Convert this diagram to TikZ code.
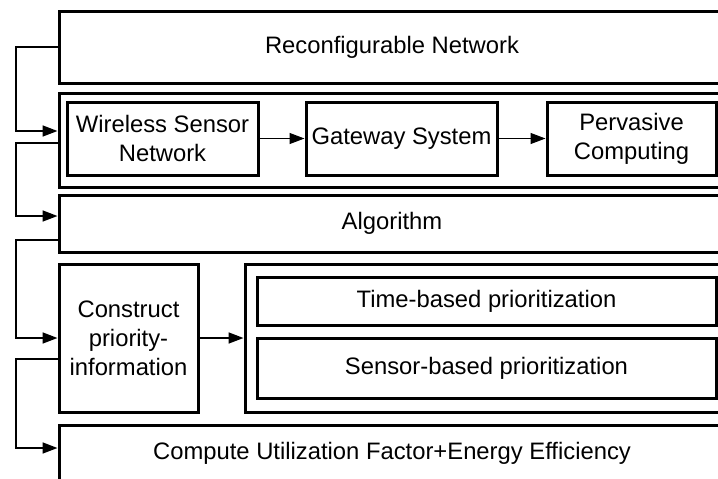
\documentclass[tikz,border=0pt]{standalone}
\usepackage{fontspec}
\setmainfont{Liberation Sans}
\usetikzlibrary{arrows.meta,calc}
\begin{document}
\begin{tikzpicture}[x=1pt,y=-1pt,
  box/.style={draw,line width=3pt,rectangle,inner sep=0pt,align=center,
              font=\fontsize{23.8}{29}\selectfont},
  conn/.style={line width=1.7pt,-{Triangle[length=15pt,width=11pt]}},
  thinconn/.style={line width=1pt,-{Triangle[length=15pt,width=11pt]}}]
\useasboundingbox (0,0) rectangle (718,479);
\clip (0,0) rectangle (718,479);
\coordinate (lx) at (16,0);
% boxes
\node[box,minimum width=666pt,minimum height=72pt] (reco) at (392,47) {Reconfigurable Network};
\node[box,minimum width=666pt,minimum height=94pt] (net) at (392,140) {};
\node[box,minimum width=191pt,minimum height=73pt] (wsn) at (162.5,138.5) {Wireless Sensor\\Network};
\node[box,minimum width=191pt,minimum height=73pt] (gw) at (401.5,138.5) {Gateway System};
\node[box,minimum width=169pt,minimum height=73pt] (pc) at (631.5,138.5) {Pervasive\\Computing};
\node[box,minimum width=666pt,minimum height=57pt] (algo) at (392,223.5) {Algorithm};
\node[box,minimum width=139pt,minimum height=148pt] (cons) at (128.5,338) {Construct\\priority-\\information};
\node[box,minimum width=483pt,minimum height=148pt] (prio) at (486.5,338) {};
\node[box,minimum width=459pt,minimum height=48pt] (time) at (486.5,301) {Time-based prioritization};
\node[box,minimum width=459pt,minimum height=60pt] (sens) at (486.5,368) {Sensor-based prioritization};
\node[box,minimum width=666pt,minimum height=57pt] (comp) at (392,453.5) {Compute Utilization Factor+Energy Efficiency};
% connector end points
\coordinate (netin)   at ($(net.west)+(0,-9)$);
\coordinate (netout)  at ($(net.west)+(0,3)$);
\coordinate (algoin)  at ($(algo.west)+(0,-7.5)$);
\coordinate (algoout) at ($(algo.west)+(0,16.5)$);
\coordinate (consout) at ($(cons.west)+(0,21)$);
\coordinate (compin)  at ($(comp.west)+(0,-5.5)$);
% connectors
\draw[conn] (reco.west) -- (reco.west -| lx) |- (netin);
\draw[conn] (netout) -- (netout -| lx) |- (algoin);
\draw[conn] (algoout) -- (algoout -| lx) |- (cons.west);
\draw[conn] (consout) -- (consout -| lx) |- (compin);
\draw[thinconn] (wsn.east) -- (gw.west);
\draw[thinconn] (gw.east) -- (pc.west);
\draw[conn] (cons.east) -- (prio.west);
\end{tikzpicture}
\end{document}
